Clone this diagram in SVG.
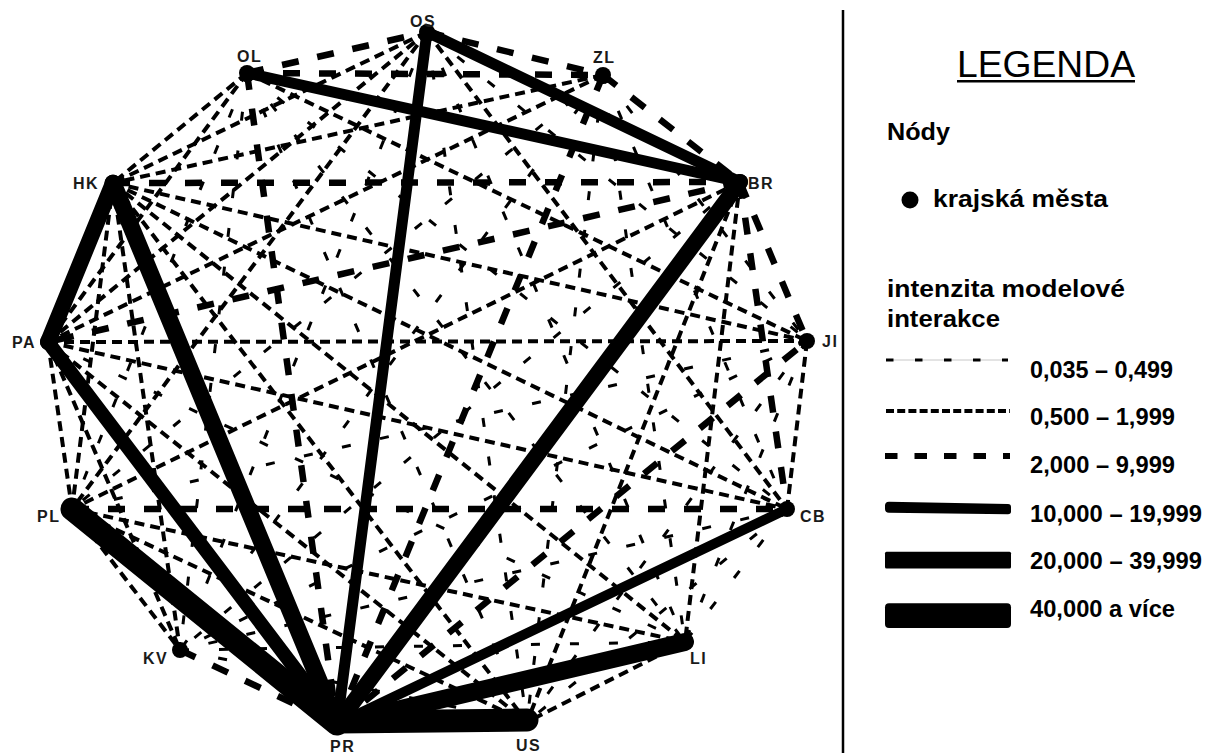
<svg xmlns="http://www.w3.org/2000/svg" width="1214" height="753" viewBox="0 0 1214 753">
<style>
.l{stroke:#000;stroke-width:3;stroke-dasharray:9 30;fill:none}
.m{stroke:#000;stroke-width:4;stroke-dasharray:10 6;fill:none}
.t{stroke:#000;stroke-width:6.5;stroke-dasharray:17 19;fill:none}
.s{stroke:#000;stroke-linecap:round;fill:none}
.dot{fill:#000}
.lab{font-family:"Liberation Sans",Arial,sans-serif;font-weight:bold;font-size:16px;fill:#1a1a1a;letter-spacing:1.5px}
.lg{font-family:"Liberation Sans",Arial,sans-serif;font-weight:bold;font-size:23px;fill:#000}
</style>
<rect x="0" y="0" width="1214" height="753" fill="#fff"/>
<g id="connectors">
<g id="light">
<line class="l" x1="427" y1="32" x2="807" y2="340"/>
<line class="l" x1="427" y1="32" x2="180" y2="650"/>
<line class="l" x1="427" y1="32" x2="685" y2="642"/>
<line class="l" x1="427" y1="32" x2="527" y2="722"/>
<line class="l" x1="247" y1="73" x2="72" y2="509"/>
<line class="l" x1="247" y1="73" x2="787" y2="509"/>
<line class="l" x1="247" y1="73" x2="180" y2="650"/>
<line class="l" x1="247" y1="73" x2="685" y2="642"/>
<line class="l" x1="247" y1="73" x2="527" y2="722"/>
<line class="l" x1="603" y1="75" x2="807" y2="341"/>
<line class="l" x1="603" y1="75" x2="72" y2="509"/>
<line class="l" x1="603" y1="75" x2="787" y2="509"/>
<line class="l" x1="603" y1="75" x2="180" y2="650"/>
<line class="l" x1="603" y1="75" x2="685" y2="642"/>
<line class="l" x1="603" y1="75" x2="527" y2="722"/>
<line class="l" x1="740" y1="182" x2="180" y2="650"/>
<line class="l" x1="48" y1="342" x2="685" y2="642"/>
<line class="l" x1="807" y1="341" x2="72" y2="509"/>
<line class="l" x1="807" y1="341" x2="180" y2="650"/>
<line class="l" x1="807" y1="341" x2="685" y2="642"/>
<line class="l" x1="807" y1="341" x2="527" y2="722"/>
<line class="l" x1="787" y1="509" x2="180" y2="650"/>
<line class="l" x1="787" y1="509" x2="685" y2="642"/>
<line class="l" x1="787" y1="509" x2="527" y2="722"/>
<line class="l" x1="180" y1="650" x2="685" y2="642"/>
<line class="l" x1="180" y1="650" x2="527" y2="722"/>
</g>
<g id="medium">
<line class="m" x1="427" y1="32" x2="113" y2="183"/>
<line class="m" x1="427" y1="32" x2="48" y2="342"/>
<line class="m" x1="427" y1="32" x2="72" y2="509"/>
<line class="m" x1="427" y1="32" x2="787" y2="509"/>
<line class="m" x1="247" y1="73" x2="113" y2="183"/>
<line class="m" x1="247" y1="73" x2="48" y2="342"/>
<line class="m" x1="247" y1="73" x2="807" y2="341"/>
<line class="m" x1="603" y1="75" x2="113" y2="183"/>
<line class="m" x1="603" y1="75" x2="48" y2="342"/>
<line class="m" x1="113" y1="183" x2="807" y2="341"/>
<line class="m" x1="113" y1="183" x2="72" y2="509"/>
<line class="m" x1="113" y1="183" x2="787" y2="509"/>
<line class="m" x1="113" y1="183" x2="180" y2="650"/>
<line class="m" x1="113" y1="183" x2="685" y2="642"/>
<line class="m" x1="113" y1="183" x2="527" y2="722"/>
<line class="m" x1="740" y1="182" x2="72" y2="509"/>
<line class="m" x1="740" y1="182" x2="685" y2="642"/>
<line class="m" x1="740" y1="182" x2="527" y2="722"/>
<line class="m" x1="48" y1="342" x2="807" y2="341"/>
<line class="m" x1="48" y1="342" x2="72" y2="509"/>
<line class="m" x1="48" y1="342" x2="787" y2="509"/>
<line class="m" x1="48" y1="342" x2="180" y2="650"/>
<line class="m" x1="48" y1="342" x2="527" y2="722"/>
<line class="m" x1="807" y1="341" x2="787" y2="509"/>
<line class="m" x1="72" y1="509" x2="180" y2="650"/>
<line class="m" x1="72" y1="509" x2="685" y2="642"/>
<line class="m" x1="72" y1="509" x2="527" y2="722"/>
<line class="m" x1="685" y1="642" x2="527" y2="722"/>
</g>
<g id="thick-dashed">
<line class="t" x1="247" y1="73" x2="427" y2="32"/>
<line class="t" x1="247" y1="73" x2="603" y2="75"/>
<line class="t" x1="427" y1="32" x2="603" y2="75"/>
<line class="t" x1="603" y1="75" x2="740" y2="182"/>
<line class="t" x1="113" y1="183" x2="740" y2="182"/>
<line class="t" x1="72" y1="509" x2="787" y2="509"/>
<line class="t" x1="180" y1="650" x2="337" y2="724"/>
<line class="t" x1="740" y1="182" x2="48" y2="342"/>
<line class="t" x1="247" y1="73" x2="337" y2="724"/>
<line class="t" x1="603" y1="75" x2="337" y2="724"/>
<line class="t" x1="740" y1="182" x2="807" y2="341"/>
<line class="t" x1="740" y1="182" x2="787" y2="509"/>
<line class="t" x1="337" y1="724" x2="807" y2="341"/>
</g>
<g id="solid">
<line class="s" stroke-width="11" x1="247" y1="73" x2="740" y2="182"/>
<line class="s" stroke-width="11" x1="427" y1="32" x2="740" y2="182"/>
<line class="s" stroke-width="11" x1="427" y1="32" x2="337" y2="724"/>
<line class="s" stroke-width="10" x1="787" y1="509" x2="337" y2="724"/>
<line class="s" stroke-width="16" x1="113" y1="183" x2="48" y2="342"/>
<line class="s" stroke-width="17" x1="113" y1="183" x2="337" y2="724"/>
<line class="s" stroke-width="14" x1="48" y1="342" x2="337" y2="724"/>
<line class="s" stroke-width="16" x1="740" y1="182" x2="337" y2="724"/>
<line class="s" stroke-width="18" x1="685" y1="642" x2="337" y2="724"/>
<line class="s" stroke-width="23" x1="72" y1="509" x2="337" y2="724"/>
<line class="s" stroke-width="23" x1="337" y1="722" x2="527" y2="720"/>
</g>
</g>
<g id="node-OS"><circle class="dot" cx="427" cy="32" r="8"/><text class="lab" x="410" y="27">OS</text></g>
<g id="node-OL"><circle class="dot" cx="247" cy="73" r="8"/><text class="lab" x="237" y="62">OL</text></g>
<g id="node-ZL"><circle class="dot" cx="603" cy="75" r="8"/><text class="lab" x="593" y="63">ZL</text></g>
<g id="node-HK"><circle class="dot" cx="113" cy="183" r="8"/><text class="lab" x="73" y="189">HK</text></g>
<g id="node-BR"><circle class="dot" cx="740" cy="182" r="8"/><text class="lab" x="748" y="189">BR</text></g>
<g id="node-PA"><circle class="dot" cx="48" cy="342" r="8"/><text class="lab" x="12" y="348">PA</text></g>
<g id="node-JI"><circle class="dot" cx="807" cy="341" r="8"/><text class="lab" x="822" y="347">JI</text></g>
<g id="node-PL"><circle class="dot" cx="72" cy="509" r="8"/><text class="lab" x="37" y="522">PL</text></g>
<g id="node-CB"><circle class="dot" cx="787" cy="509" r="8"/><text class="lab" x="800" y="522">CB</text></g>
<g id="node-KV"><circle class="dot" cx="180" cy="650" r="8"/><text class="lab" x="143" y="664">KV</text></g>
<g id="node-LI"><circle class="dot" cx="685" cy="642" r="8"/><text class="lab" x="690" y="664">LI</text></g>
<g id="node-PR"><circle class="dot" cx="337" cy="724" r="8"/><text class="lab" x="330" y="752">PR</text></g>
<g id="node-US"><circle class="dot" cx="527" cy="721" r="8"/><text class="lab" x="516" y="751">US</text></g>
<g id="legend">
<line x1="843" y1="10" x2="843" y2="753" stroke="#000" stroke-width="2.5"/>
<text x="957" y="77" font-family="'Liberation Sans',Arial,sans-serif" font-size="37" fill="#000" textLength="178" lengthAdjust="spacingAndGlyphs">LEGENDA</text>
<rect x="957" y="80" width="178" height="2.5" fill="#000"/>
<text class="lg" x="887" y="140" textLength="63" lengthAdjust="spacingAndGlyphs">Nódy</text>
<circle cx="910" cy="200" r="8.5" fill="#000"/>
<text class="lg" x="933" y="207" textLength="175" lengthAdjust="spacingAndGlyphs">krajská města</text>
<text class="lg" x="887" y="297" textLength="238" lengthAdjust="spacingAndGlyphs">intenzita modelové</text>
<text class="lg" x="887" y="327" textLength="113" lengthAdjust="spacingAndGlyphs">interakce</text>
<line x1="886" y1="360" x2="1008" y2="360" stroke="#c8c8c8" stroke-width="1"/>
<line x1="886" y1="360" x2="1008" y2="360" stroke="#000" stroke-width="3" stroke-dasharray="7.5 21.5"/>
<text class="lg" x="1030" y="378" textLength="143" lengthAdjust="spacingAndGlyphs">0,035 – 0,499</text>
<line x1="886" y1="411" x2="1010" y2="411" stroke="#000" stroke-width="4" stroke-dasharray="8 3.2"/>
<text class="lg" x="1030" y="425" textLength="145" lengthAdjust="spacingAndGlyphs">0,500 – 1,999</text>
<line x1="885" y1="456" x2="1010" y2="456" stroke="#000" stroke-width="6" stroke-dasharray="12.5 17"/>
<text class="lg" x="1030" y="473" textLength="145" lengthAdjust="spacingAndGlyphs">2,000 – 9,999</text>
<path d="M889,501.7 L1008,504 Q1011,504 1011,507 L1011,511.5 Q1011,514.3 1008,514.3 L889,512.7 Q885,512.7 885,509 L885,505.5 Q885,501.7 889,501.7 Z" fill="#000"/>
<text class="lg" x="1030" y="522" textLength="172" lengthAdjust="spacingAndGlyphs">10,000 – 19,999</text>
<rect x="885" y="551.7" width="126" height="16.7" rx="1.5" fill="#000"/>
<text class="lg" x="1030" y="569" textLength="172" lengthAdjust="spacingAndGlyphs">20,000 – 39,999</text>
<rect x="885" y="603.3" width="126" height="24.7" rx="4" fill="#000"/>
<text class="lg" x="1030" y="617" textLength="145" lengthAdjust="spacingAndGlyphs">40,000 a více</text>
</g>
</svg>
